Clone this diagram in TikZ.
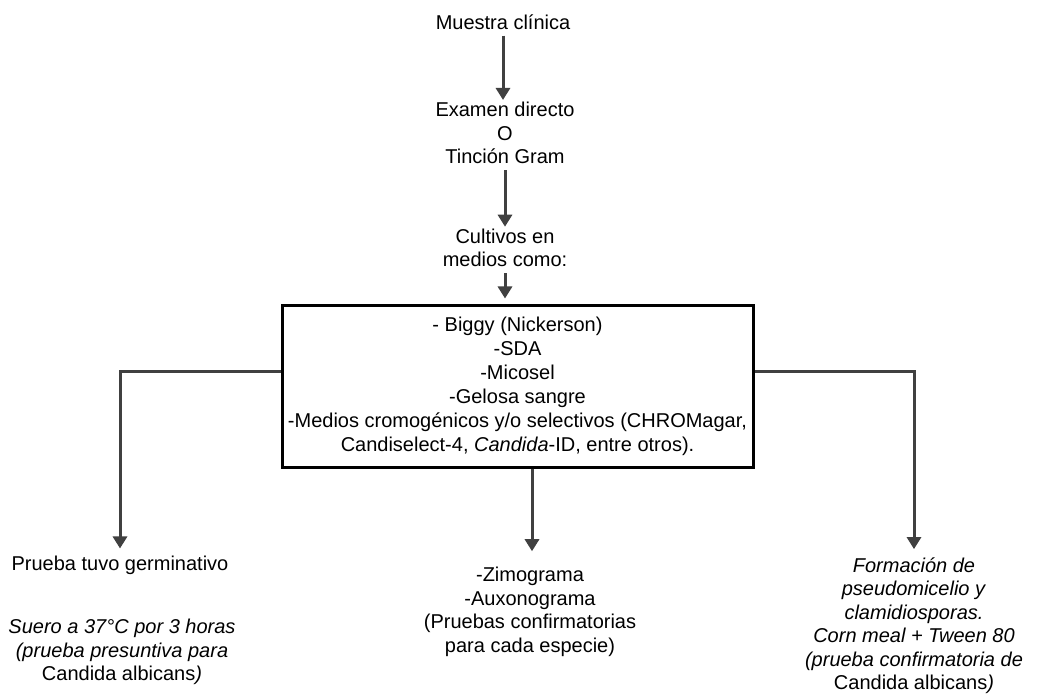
\documentclass[tikz,border=0pt]{standalone}
\usepackage{fontspec}
\setmainfont{Liberation Sans}
\usetikzlibrary{arrows.meta}
\definecolor{arr}{HTML}{404040}
\begin{document}
\begin{tikzpicture}[x=1pt,y=-1pt,
  txt/.style={align=center,font=\fontsize{20}{23.5}\selectfont,inner sep=0pt},
  conn/.style={draw=arr,line width=3pt,-{Triangle[width=14pt,length=12pt]}},
  boxn/.style={draw=black,line width=3pt,minimum width=471pt,minimum height=161pt,align=center,font=\fontsize{20}{24}\selectfont,inner sep=0pt}]
\useasboundingbox[fill=white] (0,0) rectangle (1037,695);
\node[txt] (muestra) at (503,22) {Muestra clínica};
\node[txt] (examen) at (505,133) {Examen directo\\O\\Tinción Gram};
\node[txt] (cultivos) at (505,248) {Cultivos en\\medios como:};
\node[boxn] (medios) at (517.5,386.5) {- Biggy (Nickerson)\\-SDA\\-Micosel\\-Gelosa sangre\\-Medios cromogénicos y/o selectivos (CHROMagar,\\Candiselect-4, \textit{Candida}-ID, entre otros).};
\node[txt] (prueba) at (120,565) {Prueba tuvo germinativo};
\node[txt] (suero) at (122,652) {\textit{Suero a 37°C por 3 horas}\\\textit{(prueba presuntiva para}\\Candida albicans\textit{)}};
\node[txt] (zimo) at (530,612) {-Zimograma\\-Auxonograma\\(Pruebas confirmatorias\\para cada especie)};
\node[txt] (formacion) at (914,625.5) {\textit{Formación de}\\\textit{pseudomicelio y}\\\textit{clamidiosporas.}\\\textit{Corn meal + Tween 80}\\\textit{(prueba confirmatoria de}\\Candida albicans\textit{)}};
\draw[conn,shorten <=6pt,shorten >=2pt] (muestra.south) -- (muestra.south |- examen.north);
\draw[conn,shorten <=6pt,shorten >=2pt] (examen.south) -- (examen.south |- cultivos.north);
\draw[conn,shorten <=6pt,shorten >=6pt] (cultivos.south) -- (cultivos.south |- medios.north);
\draw[conn,shorten >=7pt] ([yshift=15.5pt]medios.west) -| (prueba.north);
\draw[conn,shorten >=8pt] ([yshift=15.5pt]medios.east) -| (formacion.north);
\draw[conn,shorten >=16pt] ([xshift=14.5pt]medios.south) -- ([xshift=14.5pt]medios.south |- zimo.north);
\end{tikzpicture}
\end{document}
